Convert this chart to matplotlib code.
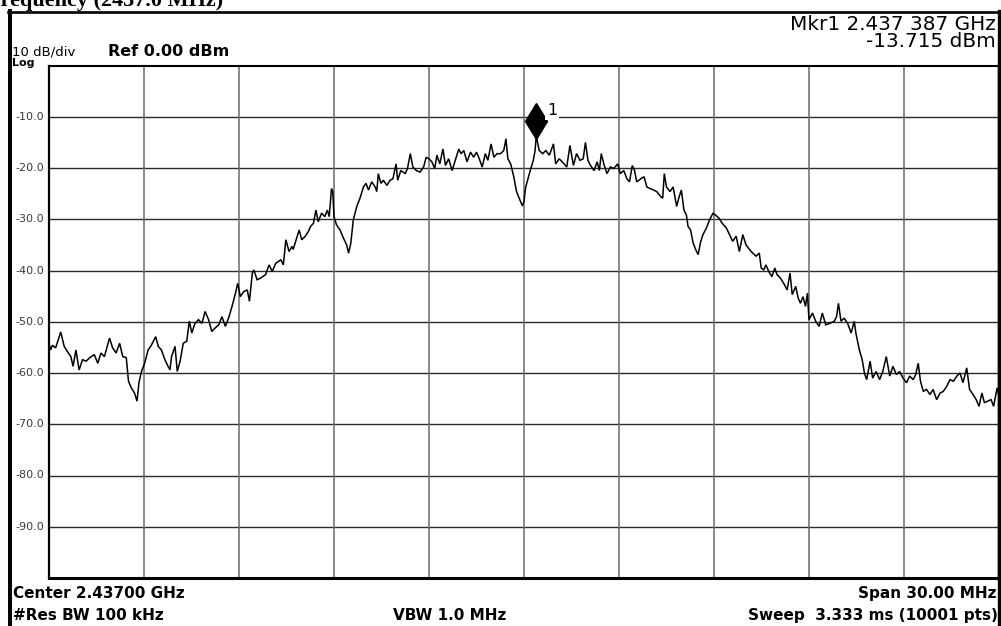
import matplotlib
matplotlib.use("Agg")
import matplotlib.pyplot as plt
import matplotlib.transforms as mtransforms
from matplotlib.lines import Line2D

# ---------------- data (offset from 2.437 GHz centre, MHz ; level dBm) -------------
freq_offset_mhz = [
    -15.00, -14.95, -14.89, -14.79, -14.63, -14.52, -14.42, -14.31, -14.24, -14.15,
    -14.05, -13.94, -13.83, -13.73, -13.57, -13.46, -13.36, -13.25, -13.09, -12.99,
    -12.88, -12.77, -12.67, -12.56, -12.49, -12.40, -12.30, -12.22, -12.16, -12.08,
    -11.98, -11.87, -11.77, -11.63, -11.55, -11.45, -11.34, -11.24, -11.18, -11.13,
    -11.02, -10.95, -10.86, -10.76, -10.65, -10.57, -10.49, -10.39, -10.28, -10.17,
    -10.07, -9.96, -9.86, -9.75, -9.64, -9.54, -9.43, -9.33, -9.22, -9.11,
    -9.04, -8.96, -8.85, -8.74, -8.67, -8.58, -8.53, -8.43, -8.32, -8.16,
    -8.05, -7.95, -7.84, -7.68, -7.60, -7.52, -7.42, -7.33,
    -7.29, -7.18, -7.10, -7.02, -6.92, -6.81, -6.74, -6.65, -6.57, -6.50,
    -6.39, -6.29, -6.21, -6.15, -6.08, -6.04, -6.00, -5.92, -5.81, -5.70,
    -5.60, -5.54, -5.47, -5.39, -5.28, -5.18, -5.07, -4.99, -4.91, -4.81,
    -4.70, -4.65, -4.60, -4.52, -4.44, -4.33, -4.23, -4.14, -4.04, -3.99,
    -3.89, -3.75, -3.68, -3.59, -3.51, -3.40, -3.28, -3.17, -3.09, -3.00,
    -2.91, -2.82, -2.75, -2.66, -2.56, -2.48, -2.38, -2.27, -2.17, -2.06,
    -1.99, -1.90, -1.80, -1.69, -1.59, -1.50, -1.43, -1.32, -1.22, -1.14,
    -1.04, -0.95, -0.85, -0.74, -0.64, -0.57, -0.51, -0.42,
    -0.32, -0.24, -0.16, -0.05, 0.00, 0.05, 0.14, 0.21, 0.29, 0.35, 0.387,
    0.48, 0.59, 0.69, 0.80, 0.93, 1.00, 1.11, 1.21, 1.35, 1.45,
    1.56, 1.66, 1.77, 1.87, 1.94, 2.02, 2.10, 2.21, 2.31, 2.38,
    2.44, 2.52, 2.62, 2.73, 2.83, 2.96, 3.04, 3.15, 3.25, 3.33,
    3.42, 3.49, 3.56, 3.69, 3.79, 3.88, 3.98, 4.09, 4.19, 4.32,
    4.38, 4.43, 4.50, 4.61, 4.71, 4.82, 4.90, 4.97, 5.05, 5.13,
    5.18, 5.26, 5.34, 5.42, 5.50, 5.57, 5.65, 5.76, 5.86, 5.97,
    6.05, 6.16, 6.26, 6.39, 6.49, 6.59, 6.70, 6.80, 6.91, 7.01,
    7.12, 7.22, 7.33, 7.43,
    7.49, 7.57, 7.64, 7.73, 7.83, 7.92, 7.99, 8.10, 8.20, 8.31,
    8.40, 8.47, 8.58, 8.66, 8.73, 8.81, 8.89, 8.95, 9.00, 9.11,
    9.21, 9.32, 9.42, 9.53, 9.66, 9.80, 9.87, 9.93, 10.01, 10.11,
    10.22, 10.33, 10.43, 10.48, 10.59, 10.68, 10.75, 10.82, 10.93, 11.01,
    11.12, 11.23, 11.33, 11.44, 11.55, 11.65, 11.76, 11.86, 11.97, 12.08,
    12.18, 12.29, 12.37, 12.45, 12.52, 12.61, 12.71, 12.82, 12.92, 13.03,
    13.14, 13.24, 13.35, 13.45, 13.56, 13.67, 13.77, 13.86, 13.93, 13.98,
    14.07, 14.18, 14.28, 14.37, 14.46, 14.54, 14.64, 14.75, 14.83, 14.94,
    15.00,
]
level_dbm = [
    -54.2, -55.5, -54.6, -55.1, -52.0, -54.8, -55.8, -56.8, -58.7, -55.5,
    -59.4, -57.4, -57.7, -57.1, -56.4, -58.1, -56.1, -56.8, -53.2, -55.1,
    -56.1, -54.2, -56.8, -57.0, -61.6, -62.9, -63.9, -65.5, -61.9, -59.7,
    -58.1, -55.5, -54.6, -52.9, -54.8, -55.5, -57.4, -58.7, -59.4, -56.8,
    -54.8, -59.7, -57.7, -54.2, -53.8, -49.9, -52.2, -50.3, -49.6, -50.3,
    -48.0, -49.6, -51.9, -51.2, -50.6, -49.0, -50.9, -49.3, -47.0, -44.4,
    -42.5, -45.1, -44.1, -43.8, -46.0, -40.5, -39.9, -41.8, -41.5, -40.8,
    -38.9, -40.2, -38.6, -37.9, -38.9, -34.0, -36.3, -35.3,
    -35.9, -33.7, -32.1, -34.0, -33.4, -32.4, -31.4, -30.8, -28.2, -30.5,
    -28.8, -29.5, -28.2, -29.5, -24.0, -24.6, -29.5, -31.1, -32.1, -33.7,
    -35.0, -36.6, -34.7, -30.1, -27.5, -25.9, -23.7, -23.0, -24.3, -22.7,
    -23.7, -24.6, -21.1, -23.0, -22.4, -23.4, -22.4, -22.1, -19.2, -22.4,
    -20.5, -21.1, -20.1, -17.2, -19.8, -20.5, -20.8, -19.8, -17.9, -18.2,
    -18.8, -20.1, -17.5, -19.2, -16.3, -19.5, -18.2, -20.5, -18.5, -16.3,
    -17.2, -16.6, -18.8, -16.9, -17.9, -16.9, -17.9, -19.8, -17.2, -18.5,
    -15.3, -17.9, -17.2, -17.2, -16.6, -14.3, -18.2, -19.2,
    -21.8, -24.5, -25.8, -27.4, -26.5, -23.8, -21.8, -20.2, -18.6, -16.6, -13.715,
    -16.6, -17.2, -16.6, -17.5, -15.3, -19.2, -18.2, -18.8, -19.8, -15.6,
    -19.5, -17.2, -18.5, -18.2, -15.0, -18.5, -19.5, -20.5, -18.8, -20.5,
    -17.2, -19.2, -21.1, -19.8, -20.1, -19.2, -21.1, -20.5, -22.1, -22.7,
    -19.5, -20.5, -22.7, -22.1, -21.7, -23.7, -24.0, -24.3, -24.6, -25.6,
    -25.9, -21.1, -23.7, -24.6, -23.7, -27.5, -25.6, -24.3, -28.2, -29.2,
    -31.4, -32.1, -34.6, -35.9, -36.9, -34.6, -33.0, -31.7, -30.1, -28.8,
    -29.2, -29.8, -30.8, -31.7, -33.0, -34.3, -33.3, -36.3, -33.0, -35.0,
    -35.9, -36.6, -37.2, -36.6,
    -39.5, -39.9, -38.9, -40.2, -41.2, -39.5, -40.8, -41.5, -42.5, -43.8,
    -40.5, -44.7, -43.1, -45.4, -46.4, -45.1, -47.0, -44.4, -49.6, -48.3,
    -49.9, -50.9, -48.3, -50.6, -50.3, -49.9, -49.0, -46.4, -49.9, -49.3,
    -50.3, -52.2, -49.9, -52.2, -55.5, -57.4, -60.0, -61.3, -57.7, -61.0,
    -59.7, -61.3, -59.7, -56.8, -60.6, -58.7, -60.3, -59.7, -61.0, -61.9,
    -60.6, -61.3, -60.3, -58.1, -61.6, -63.6, -63.2, -64.2, -63.2, -65.2,
    -63.9, -63.6, -62.6, -61.3, -61.6, -60.6, -60.0, -61.9, -60.3, -59.0,
    -63.2, -64.2, -65.2, -66.5, -63.9, -65.8, -65.5, -65.2, -66.5, -62.9,
    -64.5,
]

marker_freq_mhz = 0.387
marker_level_dbm = -13.715
marker_label = "1"

y_tick_values = [-10, -20, -30, -40, -50, -60, -70, -80, -90]
y_tick_labels = ["-10.0", "-20.0", "-30.0", "-40.0", "-50.0", "-60.0", "-70.0", "-80.0", "-90.0"]
x_grid_values = [-12, -9, -6, -3, 0, 3, 6, 9, 12]

title_text = "Frequency (2437.0 MHz)"
scale_text = "10 dB/div"
log_text = "Log"
ref_text = "Ref 0.00 dBm"
mkr_line1 = "Mkr1 2.437 387 GHz"
mkr_line2 = "-13.715 dBm"
center_text = "Center 2.43700 GHz"
rbw_text = "#Res BW 100 kHz"
vbw_text = "VBW 1.0 MHz"
span_text = "Span 30.00 MHz"
sweep_text = "Sweep  3.333 ms (10001 pts)"

# ---------------- figure ----------------
W, H = 1001, 626
fig = plt.figure(figsize=(W / 100, H / 100), dpi=100)
fig.patch.set_facecolor("white")


def fx(x):
    return x / W


def fy(y):
    return 1 - y / H


ax = fig.add_axes([fx(49), fy(578), fx(999) - fx(49), fy(65.5) - fy(578)])
ax.set_xlim(-15, 15)
ax.set_ylim(-100, 0)
ax.set_xticks([])
ax.set_yticks([])
for v in y_tick_values:
    ax.axhline(v, color="#2a2a2a", lw=1.0, zorder=1)
for v in x_grid_values:
    ax.axvline(v, color="#6a6a6a", lw=1.1, zorder=1)

ax.plot(freq_offset_mhz, level_dbm, color="black", lw=1.1, zorder=3,
        solid_joinstyle="miter")

for s in ax.spines.values():
    s.set_color("black")
ax.spines["left"].set_linewidth(1.6)
ax.spines["top"].set_linewidth(1.5)
ax.spines["bottom"].set_linewidth(2.2)
ax.spines["right"].set_linewidth(2.5)

# y labels inside the outer frame, left of the plot box
ytrans = ax.get_yaxis_transform()
for v, lab in zip(y_tick_values, y_tick_labels):
    ax.text(-(49 - 15) / 950, v, lab, transform=ytrans, ha="left", va="center",
            fontsize=8, color="#3a3a3a", clip_on=False)

# marker diamond and label
mk_tr = mtransforms.offset_copy(ax.transData, fig=fig, x=0, y=10.7, units="points")
ax.plot([marker_freq_mhz], [marker_level_dbm], marker="d", ms=18, color="black",
        mec="black", transform=mk_tr, zorder=5, clip_on=False)
ax.annotate(marker_label, xy=(marker_freq_mhz, marker_level_dbm),
            xytext=(7.6, 15), textcoords="offset points", ha="left", va="baseline",
            fontsize=11.5, color="black", zorder=6,
            bbox=dict(boxstyle="square,pad=0.12", fc="white", ec="none"))

# outer frame
fig.add_artist(Line2D([fx(10), fx(10)], [fy(11), fy(630)], color="black", lw=2.9,
                      transform=fig.transFigure))
fig.add_artist(Line2D([fx(8), fx(1003)], [fy(11.5), fy(11.5)], color="black", lw=1.9,
                      transform=fig.transFigure))
fig.add_artist(Line2D([fx(999), fx(999)], [fy(11), fy(630)], color="black", lw=2.4,
                      transform=fig.transFigure))

# texts
fig.text(fx(-13), fy(6), title_text, family="Liberation Serif", weight="bold",
         fontsize=16, va="baseline", ha="left")
fig.text(fx(12), fy(55.5), scale_text, fontsize=9.5, va="baseline", ha="left")
fig.text(fx(12), fy(66.5), log_text, fontsize=8, weight="bold", va="baseline", ha="left")
fig.text(fx(108), fy(56.5), ref_text, fontsize=11.5, weight="bold", va="baseline", ha="left")
fig.text(fx(996), fy(30), mkr_line1, fontsize=14.4, va="baseline", ha="right")
fig.text(fx(996), fy(47), mkr_line2, fontsize=14.4, va="baseline", ha="right")
fig.text(fx(13), fy(598), center_text, fontsize=11, weight="bold", va="baseline", ha="left")
fig.text(fx(13), fy(620), rbw_text, fontsize=11, weight="bold", va="baseline", ha="left")
fig.text(fx(393), fy(620), vbw_text, fontsize=11, weight="bold", va="baseline", ha="left")
fig.text(fx(997), fy(598), span_text, fontsize=11, weight="bold", va="baseline", ha="right")
fig.text(fx(998), fy(620), sweep_text, fontsize=11, weight="bold", va="baseline", ha="right")

fig.savefig("out.png", dpi=100)
